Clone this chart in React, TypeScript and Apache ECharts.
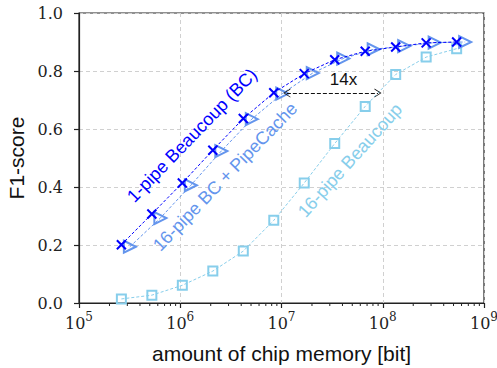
import React, { useEffect, useRef } from "react";
import * as echarts from "echarts";

// Memory sizes (bits): 2^18 ... 2^29
const memory = [
  262144, 524288, 1048576, 2097152, 4194304, 8388608, 16777216, 33554432,
  67108864, 134217728, 268435456, 536870912,
];
// PipeCache variant uses ~1.21x the memory of the plain sketch
const memoryPipeCache = [
  318000, 636000, 1272000, 2544000, 5088000, 10176000, 20352000, 40704000,
  81408000, 162816000, 325632000, 651264000,
];
const f1OnePipe = [0.201, 0.307, 0.414, 0.527, 0.636, 0.725, 0.791, 0.839, 0.868, 0.883, 0.897, 0.9];
const f1PipeCache = [0.194, 0.293, 0.406, 0.524, 0.634, 0.722, 0.793, 0.843, 0.875, 0.886, 0.898, 0.9];
const f1SixteenPipe = [0.014, 0.027, 0.061, 0.11, 0.179, 0.285, 0.414, 0.55, 0.678, 0.788, 0.848, 0.877];

const minorTicks: number[] = [];
for (let e = 5; e < 9; e++) for (let m = 2; m <= 9; m++) minorTicks.push(m * Math.pow(10, e));

const BLUE = "#0000ff";
const CORNFLOWER = "#6495ed";
const SKY = "#87ceeb";

const seriesLabels = [
  { text: "1-pipe Beaucoup (BC)", x: 1.31e6, y: 0.578, angle: 46, color: BLUE },
  { text: "16-pipe BC + PipeCache", x: 2.77e6, y: 0.435, angle: 46, color: CORNFLOWER },
  { text: "16-pipe Beaucoup", x: 4.75e7, y: 0.492, angle: 48, color: SKY },
];

const pair = (xs: number[], ys: number[]) => xs.map((x, i) => [x, ys[i]]);

export default function App() {
  const ref = useRef<HTMLDivElement>(null);
  useEffect(() => {
    const chart = echarts.init(ref.current!, undefined, { renderer: "svg" });
    const serif = "DejaVu Serif";
    const sans = "Liberation Sans";
    chart.setOption({
      animation: false,
      backgroundColor: "#fff",
      grid: {
        left: 79, right: 13, top: 13, bottom: 65,
        outerBoundsMode: "none",
        containLabel: false,
        show: true, borderColor: "#222", borderWidth: 1.2, backgroundColor: "transparent",
      },
      xAxis: {
        type: "log",
        logBase: 10,
        min: 1e5,
        max: 1e9,
        name: "amount of chip memory [bit]",
        nameLocation: "middle",
        nameGap: 40,
        nameTextStyle: { fontFamily: sans, fontSize: 21, color: "#111" },
        axisLine: { show: true, lineStyle: { color: "#222", width: 1.2 } },
        axisTick: { show: true, inside: false, length: 5, lineStyle: { color: "#222", width: 1.2 } },
        splitLine: { show: true, lineStyle: { color: "#d0d0d0", type: [4, 3], width: 1 } },
        axisLabel: {
          margin: 8,
          color: "#222",
          formatter: (v: number) => `{b|10}{e|${Math.round(Math.log10(v))}}`,
          rich: {
            b: { fontFamily: serif, fontSize: 16, color: "#222", verticalAlign: "bottom" },
            e: { fontFamily: serif, fontSize: 12, color: "#222", verticalAlign: "bottom", padding: [0, 0, 8, 0] },
          },
        },
      },
      yAxis: {
        type: "value",
        min: 0,
        max: 1,
        interval: 0.2,
        name: "F1-score",
        nameLocation: "middle",
        nameGap: 51,
        nameTextStyle: { fontFamily: sans, fontSize: 21, color: "#111" },
        axisLine: { show: true, lineStyle: { color: "#222", width: 1.2 } },
        axisTick: { show: true, inside: false, length: 5, lineStyle: { color: "#222", width: 1.2 } },
        splitLine: { show: true, lineStyle: { color: "#d0d0d0", type: [4, 3], width: 1 } },
        axisLabel: {
          margin: 16,
          fontFamily: serif,
          fontSize: 16,
          color: "#222",
          formatter: (v: number) => v.toFixed(1),
        },
      },
      series: [
        {
          type: "line",
          name: "16-pipe Beaucoup",
          data: pair(memory, f1SixteenPipe),
          symbol: "rect",
          symbolSize: 9,
          lineStyle: { color: SKY, width: 1, type: [3, 2] },
          itemStyle: { color: "rgba(255,255,255,0)", borderColor: SKY, borderWidth: 2 },
          z: 3,
        },
        {
          type: "line",
          name: "16-pipe BC + PipeCache",
          data: pair(memoryPipeCache, f1PipeCache),
          symbol: "triangle",
          symbolRotate: -90,
          symbolSize: [12, 12],
          lineStyle: { color: CORNFLOWER, width: 1, type: [3, 2] },
          itemStyle: { color: "rgba(255,255,255,0)", borderColor: CORNFLOWER, borderWidth: 2 },
          z: 3,
        },
        {
          type: "line",
          name: "1-pipe Beaucoup (BC)",
          data: pair(memory, f1OnePipe),
          symbol: "path://M0,0 L10,10 M10,0 L0,10",
          symbolSize: 9,
          lineStyle: { color: BLUE, width: 1, type: [3, 2] },
          itemStyle: { color: BLUE, borderColor: BLUE, borderWidth: 2 },
          z: 4,
          markLine: {
            silent: true,
            symbol: [
              "path://M0,10 L5,0 L10,10 L9,10 L5,2 L1,10 Z",
              "path://M0,10 L5,0 L10,10 L9,10 L5,2 L1,10 Z",
            ],
            symbolSize: [9, 7],
            label: { show: false },
            lineStyle: { color: "#111", type: [4, 2], width: 1.2 },
            data: [[{ coord: [1.13e7, 0.724] }, { coord: [8.97e7, 0.724] }]],
          },
          markPoint: {
            silent: true,
            symbol: "circle",
            symbolSize: 0,
            label: {
              show: true,
              formatter: "14x",
              fontFamily: sans,
              fontSize: 17,
              color: "#111",
              position: "inside",
            },
            data: [{ coord: [4.1e7, 0.771] }],
          },
        },
        {
          type: "custom",
          name: "minor ticks",
          clip: false,
          silent: true,
          data: minorTicks.map((v) => [v, 0]),
          renderItem: (params: any, api: any) => {
            const p = api.coord([api.value(0), 0]);
            return {
              type: "line",
              shape: { x1: p[0], y1: p[1], x2: p[0], y2: p[1] + 3 },
              style: { stroke: "#222", lineWidth: 1 },
            };
          },
          z: 1,
        },
        {
          type: "custom",
          name: "labels",
          clip: false,
          silent: true,
          data: seriesLabels.map((l) => [l.x, l.y]),
          renderItem: (params: any, api: any) => {
            const l = seriesLabels[params.dataIndex];
            const p = api.coord([api.value(0), api.value(1)]);
            return {
              type: "text",
              x: p[0],
              y: p[1],
              rotation: (l.angle * Math.PI) / 180,
              style: {
                text: l.text,
                fill: l.color,
                fontFamily: sans,
                fontSize: 18,
                align: "center",
                verticalAlign: "middle",
              },
            };
          },
          z: 5,
        },
      ],
    });
    return () => chart.dispose();
  }, []);
  return (
    <div
      ref={ref}
      style={{ position: "fixed", left: 0, top: 0, width: 497, height: 368 }}
    />
  );
}
